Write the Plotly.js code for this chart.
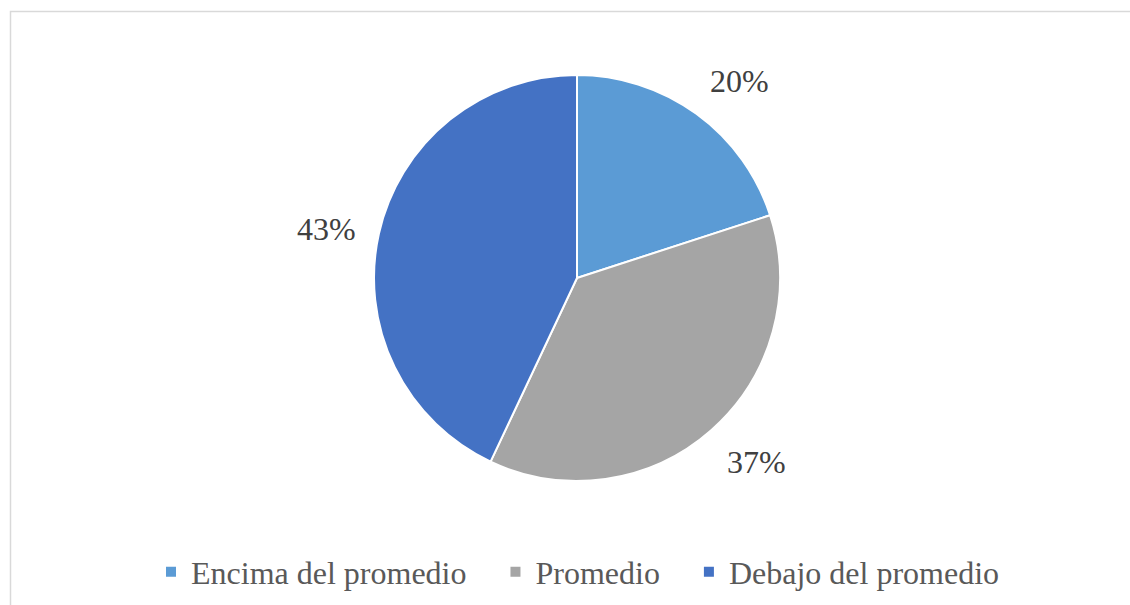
<!DOCTYPE html>
<html>
<head>
<meta charset="utf-8">
<script src="https://cdn.plot.ly/plotly-3.0.1.min.js"></script>
<style>
  html, body { margin: 0; padding: 0; background: #ffffff; }
  #chart { width: 1130px; height: 605px; }
</style>
</head>
<body>
<div id="chart"></div>
<script>
// Data
var categories = ["Encima del promedio", "Promedio", "Debajo del promedio"];
var values = [20, 37, 43];
var colors = ["#5B9BD5", "#A5A5A5", "#4472C4"];

var W = 1130, H = 605;
var cx = 577, cy = 278, R = 203;   // pie centre / radius in px
var gap = 23;                      // gap between pie edge and the percent labels
var halfW = 30, halfH = 14;        // half size of a percent label's text box

var total = values.reduce(function (a, b) { return a + b; }, 0);
var FONT = "Liberation Serif";
var FSIZE = 32;

// pad legend labels (except the last) to reproduce the wider spacing between entries
var pad = "\u00A0\u00A0\u00A0";
var legendLabels = categories.map(function (c, i) {
  return i < categories.length - 1 ? c + pad : c;
});

var trace = {
  type: "pie",
  labels: legendLabels,
  values: values,
  sort: false,
  direction: "clockwise",
  rotation: 0,
  marker: { colors: colors, line: { color: "#ffffff", width: 2 } },
  textinfo: "none",
  hoverinfo: "label+percent",
  domain: { x: [(cx - R) / W, (cx + R) / W], y: [1 - (cy + R) / H, 1 - (cy - R) / H] }
};

// percent labels placed outside the end of each slice (mid-angle)
var annotations = [];
var cum = 0;
for (var i = 0; i < values.length; i++) {
  var mid = (cum + values[i] / 2) / total * 2 * Math.PI;
  cum += values[i];
  var s = Math.sin(mid), c = Math.cos(mid);
  var px = cx + (R + gap) * s;
  var py = cy - (R + gap) * c;
  var ax = s > 0.3 ? 1 : (s < -0.3 ? -1 : 0);
  var ay = c > 0.3 ? 1 : (c < -0.3 ? -1 : 0);
  px += ax * halfW;
  py -= ay * halfH;
  annotations.push({
    xref: "paper", yref: "paper",
    x: px / W, y: 1 - py / H,
    xanchor: "center", yanchor: "middle",
    borderpad: 0,
    showarrow: false,
    text: Math.round(values[i] / total * 100) + "%",
    font: { family: FONT, size: FSIZE, color: "#404040" }
  });
}

var layout = {
  width: W, height: H,
  margin: { l: 0, r: 0, t: 0, b: 0 },
  paper_bgcolor: "#ffffff",
  showlegend: true,
  legend: {
    orientation: "h",
    x: 0.5 + 13 / W, xanchor: "center",
    y: 1 - 572 / H, yanchor: "middle",
    font: { family: FONT, size: FSIZE, color: "#595959" },
    bgcolor: "rgba(0,0,0,0)"
  },
  annotations: annotations,
  shapes: [{
    type: "rect", xref: "paper", yref: "paper",
    x0: 10.5 / W, x1: 1.2, y0: -0.2, y1: 1 - 11.5 / H,
    line: { color: "#d9d9d9", width: 1.5 },
    fillcolor: "rgba(0,0,0,0)",
    layer: "below"
  }]
};

Plotly.newPlot("chart", [trace], layout, { displayModeBar: false, staticPlot: true });
</script>
</body>
</html>
